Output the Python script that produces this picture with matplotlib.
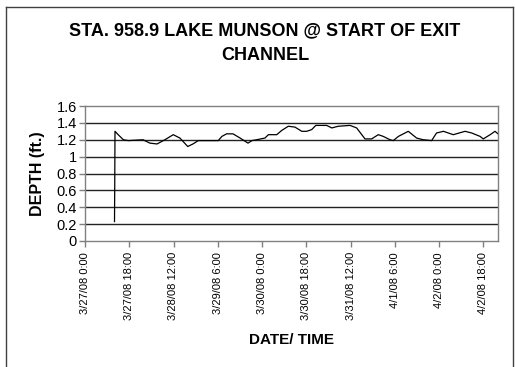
import matplotlib
matplotlib.use("Agg")
import matplotlib.pyplot as plt
from matplotlib import font_manager
from datetime import datetime, timedelta

title = "STA. 958.9 LAKE MUNSON @ START OF EXIT\nCHANNEL"
x_label = "DATE/ TIME"
y_label = "DEPTH (ft.)"

start = datetime(2008, 3, 27, 0, 0)
# hours after 3/27/08 0:00
hours = [12.0, 12.1, 12.2, 13.5, 15.6, 17.6, 23.6, 26.4, 29.3, 32.5, 35.9, 38.6,
         41.8, 43.9, 46.1, 51.5, 54.2, 55.7, 57.6, 60.2, 63.1, 66.3, 67.9, 69.8,
         73.2, 74.6, 78.0, 80.0, 82.7, 85.4, 88.2, 90.2, 92.2, 93.9, 98.3, 100.4,
         103.0, 107.8, 110.5, 113.9, 116.6, 119.3, 121.3, 124.1, 125.4, 127.5,
         131.5, 134.9, 137.6, 141.0, 143.0, 145.8, 149.8, 154.6, 157.3, 160.7,
         162.0, 164.8, 166.8, 168.0]
depth = [0.23, 0.67, 1.30, 1.26, 1.20, 1.19, 1.20, 1.16, 1.15, 1.20, 1.26, 1.22,
         1.12, 1.15, 1.19, 1.19, 1.19, 1.24, 1.27, 1.27, 1.22, 1.16, 1.19, 1.20,
         1.22, 1.26, 1.26, 1.31, 1.36, 1.35, 1.30, 1.30, 1.32, 1.37, 1.37, 1.34,
         1.36, 1.37, 1.34, 1.21, 1.21, 1.26, 1.24, 1.20, 1.19, 1.24,
         1.30, 1.22, 1.20, 1.19, 1.28, 1.30, 1.26, 1.30, 1.28, 1.24,
         1.21, 1.26, 1.30, 1.27]

tick_hours = [0, 18, 36, 54, 72, 90, 108, 126, 144, 162]
tick_labels = ["3/27/08 0:00", "3/27/08 18:00", "3/28/08 12:00", "3/29/08 6:00",
               "3/30/08 0:00", "3/30/08 18:00", "3/31/08 12:00", "4/1/08 6:00",
               "4/2/08 0:00", "4/2/08 18:00"]
y_ticks = [0, 0.2, 0.4, 0.6, 0.8, 1, 1.2, 1.4, 1.6]
y_tick_labels = ["0", "0.2", "0.4", "0.6", "0.8", "1", "1.2", "1.4", "1.6"]

names = {f.name for f in font_manager.fontManager.ttflist}
base = "Liberation Sans" if "Liberation Sans" in names else "DejaVu Sans"
narrow = "Liberation Sans Narrow" if "Liberation Sans Narrow" in names else base
plt.rcParams['font.family'] = [base, 'DejaVu Sans']

fig = plt.figure(figsize=(5.15, 3.67), dpi=100)
ax = fig.add_axes([85/515, (367-241)/367, (498-85)/515, (241-106)/367])

times = [start + timedelta(hours=h) for h in hours]
ax.plot(times, depth, color="black", linewidth=0.9)

ax.set_xlim(start, start + timedelta(hours=168))
ax.set_ylim(0, 1.6)
ax.set_yticks(y_ticks)
ax.set_yticklabels(y_tick_labels, fontsize=10.5)
ax.set_xticks([start + timedelta(hours=h) for h in tick_hours])
ax.set_xticklabels(tick_labels, rotation=90, fontsize=8, family=[narrow, base])
ax.tick_params(axis='both', direction='out', length=4, color='#808080', width=1)
ax.tick_params(axis='x', pad=4)
ax.tick_params(axis='y', pad=2)

for yv in y_ticks[1:-1]:
    ax.axhline(yv, color='#222222', linewidth=1.0, zorder=0)
for s in ax.spines.values():
    s.set_color('#808080')
    s.set_linewidth(1.0)

ax.set_xlabel(x_label, fontsize=11, fontweight='bold', labelpad=9)
ax.set_ylabel(y_label, fontsize=11.5, fontweight='bold', labelpad=8)
fig.text(265/515, 1 - 43/367, title, ha='center', va='center', fontsize=13,
         fontweight='bold', linespacing=1.55)

# outer chart border
fig.add_artist(plt.Line2D([6/515, 6/515], [0, 1 - 7/367], transform=fig.transFigure,
                          color='#404040', linewidth=1))
fig.add_artist(plt.Line2D([6/515, 513/515], [1 - 7/367, 1 - 7/367], transform=fig.transFigure,
                          color='#404040', linewidth=1))
fig.add_artist(plt.Line2D([513/515, 513/515], [0, 1 - 7/367], transform=fig.transFigure,
                          color='#404040', linewidth=1))

fig.savefig("out.png", dpi=100)
